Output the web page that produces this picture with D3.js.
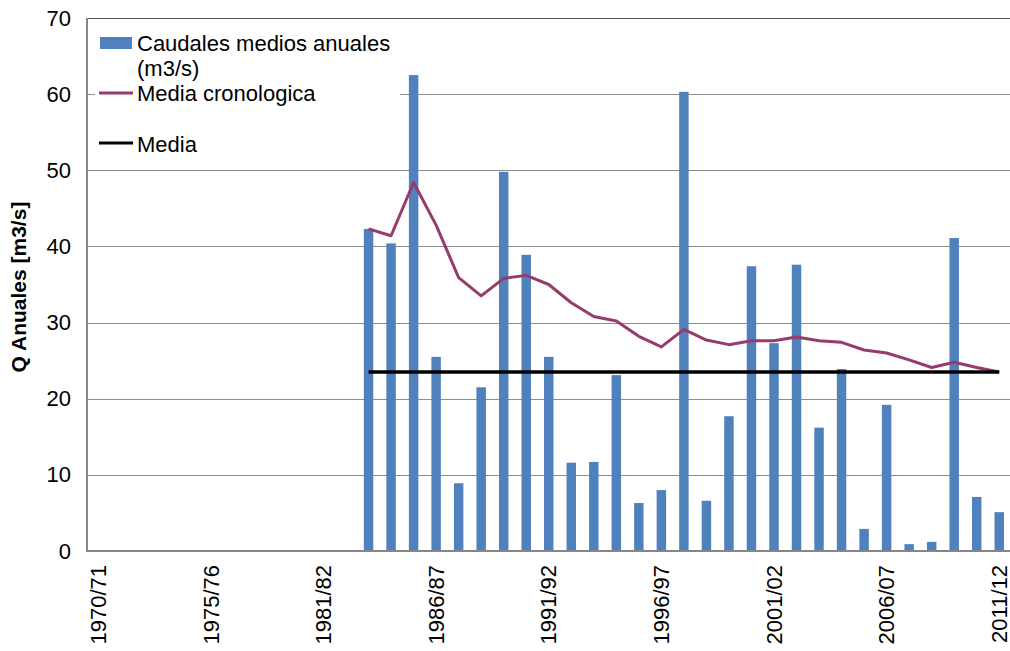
<!DOCTYPE html>
<html>
<head>
<meta charset="utf-8">
<script src="https://cdn.jsdelivr.net/npm/d3@7"></script>
<style>
  html, body { margin: 0; padding: 0; background: #fff; }
  svg { display: block; font-family: "Liberation Sans", Arial, sans-serif; }
</style>
</head>
<body>
<svg id="chart" width="1010" height="651"></svg>
<script>
// ---- Data ----
const categories = [
  "1970/71","1971/72","1972/73","1973/74","1974/75","1975/76","1976/77","1977/78","1978/79","1979/80",
  "1981/82","1982/83","1983/84","1984/85","1985/86","1986/87","1987/88","1988/89","1989/90","1990/91",
  "1991/92","1992/93","1993/94","1994/95","1995/96","1996/97","1997/98","1998/99","1999/00","2000/01",
  "2001/02","2002/03","2003/04","2004/05","2005/06","2006/07","2007/08","2008/09","2009/10","2010/11",
  "2011/12"
];
const caudales = [
  null,null,null,null,null,null,null,null,null,null,
  null,null,42.3,40.4,62.5,25.5,8.9,21.5,49.8,38.9,
  25.5,11.6,11.7,23.1,6.3,8.0,60.3,6.6,17.7,37.4,
  27.3,37.6,16.2,23.9,2.9,19.2,0.9,1.2,41.1,7.1,
  5.1
];
const mediaCronologica = [
  null,null,null,null,null,null,null,null,null,null,
  null,null,42.3,41.4,48.4,42.8,35.9,33.5,35.8,36.2,
  35.0,32.6,30.8,30.2,28.2,26.8,29.1,27.7,27.1,27.6,
  27.6,28.1,27.6,27.4,26.4,26.0,25.1,24.1,24.8,24.1,
  23.5
];
const media = 23.5;
const mediaStart = "1983/84";
const mediaEnd = "2011/12";
const yTicks = [0,10,20,30,40,50,60,70];
const xTickLabels = ["1970/71","1975/76","1981/82","1986/87","1991/92","1996/97","2001/02","2006/07","2011/12"];
const legendLabels = ["Caudales medios anuales", "(m3/s)", "Media cronologica", "Media"];
const yTitle = "Q Anuales [m3/s]";

// ---- Layout ----
const svg = d3.select("#chart");
const L = 87, R = 1010.5, T = 18, B = 551;
const FONT = 22;

const x = d3.scaleBand().domain(categories).range([L, R]).paddingInner(0.58).paddingOuter(0.29);
const cx = c => x(c) + x.bandwidth() / 2;
const y = d3.scaleLinear().domain([0, 70]).range([B, T]);

// gridlines
svg.append("g").selectAll("line").data(yTicks.filter(t => t > 0)).join("line")
  .attr("x1", L).attr("x2", 1010)
  .attr("y1", d => Math.round(y(d)) + 0.5).attr("y2", d => Math.round(y(d)) + 0.5)
  .attr("stroke", d => d === 70 ? "#555" : "#8c8c8c").attr("stroke-width", 1);

// bars
const barData = categories.map((c, i) => ({ c, v: caudales[i] })).filter(d => d.v != null);
svg.append("g").selectAll("rect").data(barData).join("rect")
  .attr("x", d => x(d.c)).attr("width", x.bandwidth())
  .attr("y", d => y(d.v)).attr("height", d => y(0) - y(d.v))
  .attr("fill", "#4f81bd");

// media cronologica line
const cronData = categories.map((c, i) => ({ c, v: mediaCronologica[i] })).filter(d => d.v != null);
svg.append("path").datum(cronData)
  .attr("d", d3.line().x(d => cx(d.c)).y(d => y(d.v)))
  .attr("fill", "none").attr("stroke", "#963c6c").attr("stroke-width", 3)
  .attr("stroke-linejoin", "round");

// media line
svg.append("line")
  .attr("x1", cx(mediaStart)).attr("x2", cx(mediaEnd))
  .attr("y1", y(media)).attr("y2", y(media))
  .attr("stroke", "#000").attr("stroke-width", 3.5);

// axes lines
svg.append("line").attr("x1", L).attr("x2", L).attr("y1", T).attr("y2", B + 1)
  .attr("stroke", "#868686").attr("stroke-width", 2);
svg.append("line").attr("x1", L - 1).attr("x2", 1010).attr("y1", B).attr("y2", B)
  .attr("stroke", "#868686").attr("stroke-width", 2);

// y axis labels
const yAxis = d3.axisLeft(y).tickValues(yTicks).tickSize(0).tickPadding(16);
const gy = svg.append("g").attr("transform", `translate(${L},0)`).call(yAxis);
gy.select(".domain").remove();
gy.selectAll("text").attr("font-size", FONT).attr("fill", "#000")
  .attr("font-family", "Liberation Sans, Arial, sans-serif");

// x axis labels
const xAxis = d3.axisBottom(x).tickValues(xTickLabels).tickSize(0);
const gx = svg.append("g").attr("transform", `translate(0,${B})`).call(xAxis);
gx.select(".domain").remove();
gx.selectAll("text")
  .attr("font-size", FONT).attr("fill", "#000")
  .attr("font-family", "Liberation Sans, Arial, sans-serif")
  .attr("text-anchor", "end")
  .attr("transform", "translate(0,14) rotate(-90)")
  .attr("x", 0).attr("y", 0).attr("dy", "0.35em");

// y title
svg.append("text")
  .attr("transform", "translate(26,287) rotate(-90)")
  .attr("text-anchor", "middle")
  .attr("font-size", 21).attr("font-weight", "bold")
  .text(yTitle);

// legend
const lg = svg.append("g");
lg.append("rect").attr("x", 95).attr("y", 23).attr("width", 305).attr("height", 146).attr("fill", "#fff");
lg.append("rect").attr("x", 100).attr("y", 37).attr("width", 32).attr("height", 12).attr("fill", "#4f81bd");
lg.append("line").attr("x1", 99).attr("x2", 133).attr("y1", 93).attr("y2", 93)
  .attr("stroke", "#963c6c").attr("stroke-width", 3);
lg.append("line").attr("x1", 99).attr("x2", 133).attr("y1", 143).attr("y2", 143)
  .attr("stroke", "#000").attr("stroke-width", 3);
const lgY = [51, 76, 101, 152];
lg.selectAll("text.lt").data(legendLabels).join("text").attr("class", "lt")
  .attr("x", 137).attr("y", (d, i) => lgY[i])
  .attr("font-size", FONT).attr("fill", "#000")
  .text(d => d);
</script>
</body>
</html>
